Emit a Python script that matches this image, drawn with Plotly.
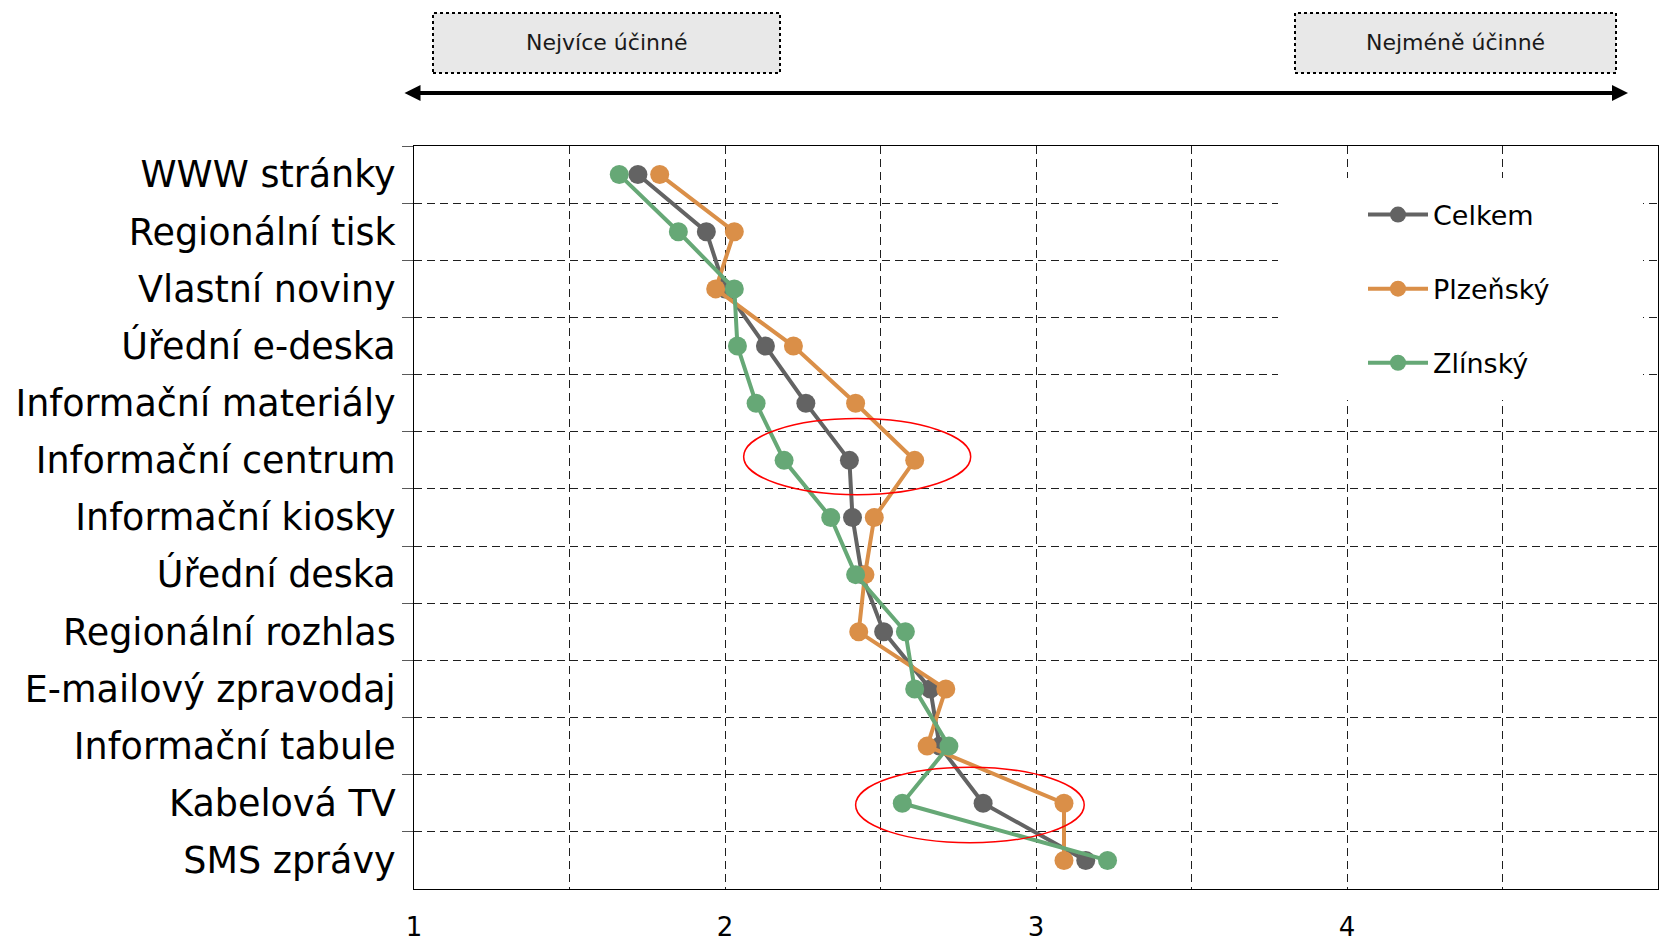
# Hodnocení účinnosti informačních kanálů (průměrné pořadí, 1 = nejúčinnější)

import plotly.graph_objects as go

# kategorie (shora dolů)
kanaly = ['WWW stránky', 'Regionální tisk', 'Vlastní noviny', 'Úřední e-deska',
          'Informační materiály', 'Informační centrum', 'Informační kiosky',
          'Úřední deska', 'Regionální rozhlas', 'E-mailový zpravodaj',
          'Informační tabule', 'Kabelová TV', 'SMS zprávy']

# průměrné hodnocení podle skupin
celkem = [1.72, 1.94, 2.00, 2.13, 2.26, 2.40, 2.41, 2.44, 2.51, 2.66, 2.69, 2.83, 3.16]
plzensky = [1.79, 2.03, 1.97, 2.22, 2.42, 2.61, 2.48, 2.45, 2.43, 2.71, 2.65, 3.09, 3.09]
zlinsky = [1.66, 1.85, 2.03, 2.04, 2.10, 2.19, 2.34, 2.42, 2.58, 2.61, 2.72, 2.57, 3.23]

# osa x
x_ticks = [1, 1.5, 2, 2.5, 3, 3.5, 4, 4.5, 5]
x_tick_labels = ['1', '', '2', '', '3', '', '4', '', '5']

serie = [('Celkem', celkem, '#636363'),
         ('Plzeňský', plzensky, '#DA8F48'),
         ('Zlínský', zlinsky, '#66A876')]

font_name = 'DejaVu Sans'

fig = go.Figure()
for name, vals, color in serie:
    fig.add_trace(go.Scatter(x=vals, y=kanaly, name=name, mode='lines+markers',
                             legendgroup=name,
                             line=dict(color=color, width=4),
                             marker=dict(color=color, size=19)))

# dimenze grafu v pixelech (pro přepočet dekorací do souřadnic paper)
W, H = 1659, 939
L, R, T, B = 414, 1, 146, 50
pw, ph = W - L - R, H - T - B

def px(x):
    return (x - L) / pw

def py(y):
    return (H - B - y) / ph

shapes = []
# bílé pozadí legendy (zakryje mřížku)
shapes.append(dict(type='rect', xref='paper', yref='paper', layer='above',
                   x0=px(1278), x1=px(1643), y0=py(400), y1=py(178),
                   fillcolor='white', line=dict(width=0)))
# popisky nad grafem
for x0, x1 in [(433, 780), (1295, 1616)]:
    shapes.append(dict(type='rect', xref='paper', yref='paper',
                       x0=px(x0), x1=px(x1), y0=py(73), y1=py(13),
                       fillcolor='#E8E8E8', line=dict(color='black', width=2, dash='dot')))
# červené elipsy
shapes.append(dict(type='circle', xref='x', yref='y', x0=2.06, x1=2.79, y0=4.27, y1=5.60,
                   line=dict(color='#FF0000', width=1.5)))
shapes.append(dict(type='circle', xref='x', yref='y', x0=2.42, x1=3.155, y0=10.37, y1=11.69,
                   line=dict(color='#FF0000', width=1.5)))

annotations = [
    dict(text='Nejvíce účinné', xref='paper', yref='paper', x=px(606), y=py(42),
         xanchor='center', yanchor='middle',
         showarrow=False, font=dict(family=font_name, size=22, color='#1a1a1a')),
    dict(text='Nejméně účinné', xref='paper', yref='paper', x=px(1455), y=py(42),
         xanchor='center', yanchor='middle',
         showarrow=False, font=dict(family=font_name, size=22, color='#1a1a1a')),
    # oboustranná šipka
    dict(text='', xref='paper', yref='paper', x=px(1628), y=py(93), ax=-(1628 - 403), ay=0,
         showarrow=True, arrowhead=2, startarrowhead=2, arrowside='end+start',
         arrowwidth=4, arrowsize=0.8, startarrowsize=0.8, arrowcolor='black'),
]

fig.update_layout(
    width=W, height=H,
    margin=dict(l=L, r=R, t=T, b=B),
    plot_bgcolor='white', paper_bgcolor='white',
    font=dict(family=font_name, color='black'),
    shapes=shapes, annotations=annotations,
    legend=dict(x=px(1363), y=py(190.5), xanchor='left', yanchor='top',
                font=dict(family=font_name, size=27, color='black'),
                bgcolor='rgba(0,0,0,0)', tracegroupgap=36, itemwidth=60),
    xaxis=dict(range=[1, 5], tickvals=x_ticks, ticktext=x_tick_labels,
               automargin=False,
               showgrid=True, gridcolor='#1f1f1f', griddash='8px,5px', gridwidth=1,
               showline=True, linecolor='black', linewidth=1, mirror=True,
               ticks='outside', ticklen=15, tickcolor='rgba(0,0,0,0)',
               tickfont=dict(family=font_name, size=26, color='black'),
               zeroline=False),
    yaxis=dict(type='category', categoryorder='array', categoryarray=kanaly,
               range=[len(kanaly) - 0.5, -0.5], tickson='boundaries', automargin=False,
               showgrid=True, gridcolor='#1f1f1f', griddash='8px,5px', gridwidth=1,
               showline=True, linecolor='black', linewidth=1, mirror=True,
               ticks='outside', ticklen=11, tickcolor='#595959',
               ticklabelstandoff=10,
               tickfont=dict(family=font_name, size=36.5, color='black')),
)

# bez okraje stránky, aby graf začínal v levém horním rohu
fig.write_html("out.html", config={'displayModeBar': False},
               post_script="document.body.style.margin='0';")
